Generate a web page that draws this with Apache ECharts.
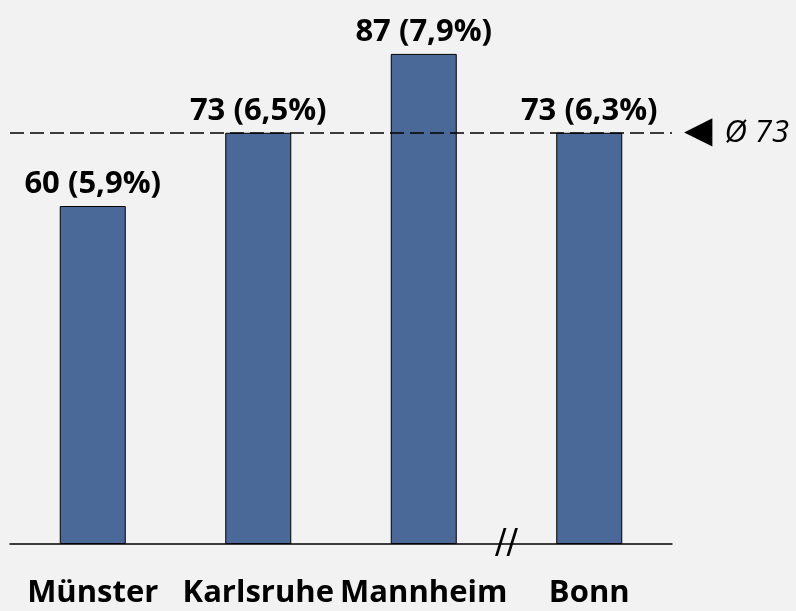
<!DOCTYPE html>
<html>
<head>
<meta charset="utf-8">
<script src="https://cdn.jsdelivr.net/npm/echarts@6/dist/echarts.min.js"></script>
<style>
  html, body { margin: 0; padding: 0; background: #f2f2f2; }
  #chart { width: 796px; height: 611px; }
</style>
</head>
<body>
<div id="chart"></div>
<script>
const cities = ['Münster', 'Karlsruhe', 'Mannheim', 'Bonn'];
const values = [60, 73, 87, 73];
const shares = ['5,9%', '6,5%', '7,9%', '6,3%'];
const average = 73;

const chart = echarts.init(document.getElementById('chart'));
const font = '"Open Sans", "Noto Sans", sans-serif';

chart.setOption({
  animation: false,
  backgroundColor: '#f2f2f2',
  grid: { left: 10, right: 124, top: 37, bottom: 67 },
  xAxis: {
    type: 'category',
    data: cities,
    axisLine: { lineStyle: { color: '#000', width: 1.5 } },
    axisTick: { show: false },
    axisLabel: {
      interval: 0, margin: 34, color: '#000', fontFamily: font,
      fontSize: 31, fontWeight: 'bold'
    }
  },
  yAxis: {
    type: 'value', min: 0, max: 90,
    show: false, splitLine: { show: false }
  },
  series: [{
    type: 'bar',
    data: values,
    barWidth: 66,
    itemStyle: { color: '#4a6898', borderColor: '#000', borderWidth: 1 },
    label: {
      show: true, position: 'top', distance: 6,
      color: '#000', fontFamily: font, fontSize: 31, fontWeight: 'bold',
      formatter: (p) => p.value + ' (' + shares[p.dataIndex] + ')'
    },
    markLine: {
      silent: true,
      symbol: 'none',
      lineStyle: { type: [14, 6], color: '#000', width: 1.5 },
      data: [{ yAxis: average }],
      label: {
        position: 'end', distance: 12,
        formatter: '{t|◀}{v|Ø ' + average + '}',
        rich: {
          t: { fontFamily: 'DejaVu Sans', fontSize: 37, color: '#000' },
          v: { fontFamily: font, fontSize: 31, fontStyle: 'italic', color: '#000', padding: [0, 0, 0, 12] }
        }
      }
    }
  }]
});

// axis break mark between Mannheim and Bonn
const p2 = chart.convertToPixel({ xAxisIndex: 0 }, cities[2]);
const p3 = chart.convertToPixel({ xAxisIndex: 0 }, cities[3]);
const base = chart.convertToPixel({ yAxisIndex: 0 }, 0);
chart.setOption({
  graphic: [{
    type: 'text',
    x: (p2 + p3) / 2, y: base,
    style: {
      text: '//', font: '34px "DejaVu Sans"', fill: '#000',
      align: 'center', verticalAlign: 'middle'
    }
  }]
});
</script>
</body>
</html>
